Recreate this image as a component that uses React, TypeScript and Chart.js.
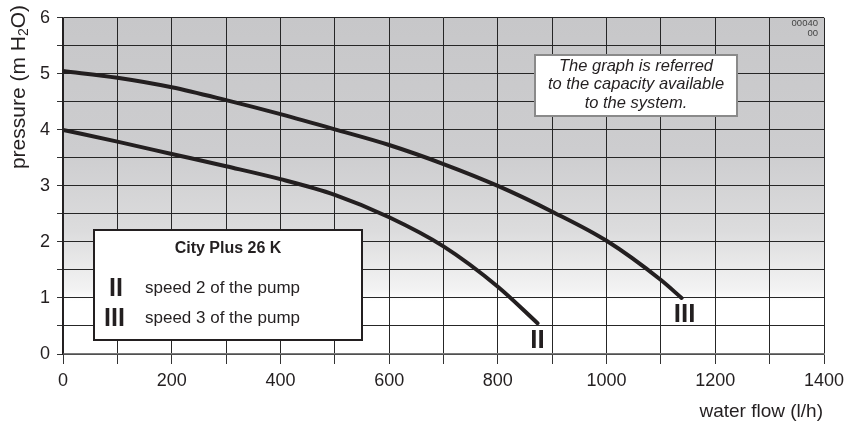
import React, { useEffect, useRef } from 'react';
import { Chart, registerables } from 'chart.js';

Chart.register(...registerables);

// ---- data ----
const flowSpeed2 = [0, 100, 200, 300, 400, 500, 600, 700, 800, 873];
const pressureSpeed2 = [4.0, 3.79, 3.57, 3.35, 3.12, 2.84, 2.44, 1.92, 1.2, 0.55];
const flowSpeed3 = [0, 100, 200, 300, 400, 500, 600, 700, 800, 900, 1000, 1100, 1138];
const pressureSpeed3 = [5.05, 4.93, 4.76, 4.53, 4.28, 4.01, 3.73, 3.39, 3.0, 2.54, 2.02, 1.32, 1.0];

const curveLabels = ['II', 'III'];
const seriesNames = ['speed 2 of the pump', 'speed 3 of the pump'];
const modelName = 'City Plus 26 K';
const noteLines = ['The graph is referred', 'to the capacity available', 'to the system.'];
const codeLines = ['00040', '00'];
const xTitle = 'water flow (l/h)';
const yTitleParts = ['pressure (m H', '2', 'O)'];

const xMin = 0;
const xMax = 1400;
const xStep = 100;
const xLabelStep = 200;
const yMin = 0;
const yMax = 6;
const yStep = 0.5;
const yLabelStep = 1;

// ---- styles ----
const INK = '#231f20';
const SANS = "'Liberation Sans', Arial, sans-serif";
const gradientStops: [number, string][] = [
  [6, '#c7c7c9'],
  [3.6, '#cdcdcf'],
  [2.2, '#dcdcdd'],
  [1.15, '#f3f3f3'],
  [0.95, '#ffffff'],
  [0, '#ffffff'],
];

const overlayPlugin = {
  id: 'overlay',
  beforeDraw(chart: any) {
    const { ctx, chartArea: a, scales } = chart;
    const ys = scales.y;
    const g = ctx.createLinearGradient(0, a.top, 0, a.bottom);
    gradientStops.forEach(([v, c]) => {
      const t = (ys.getPixelForValue(v) - a.top) / (a.bottom - a.top);
      g.addColorStop(Math.min(1, Math.max(0, t)), c);
    });
    ctx.save();
    ctx.fillStyle = g;
    ctx.fillRect(a.left, a.top, a.right - a.left, a.bottom - a.top);
    ctx.restore();
  },
  afterDraw(chart: any) {
    const { ctx, scales } = chart;
    const xs = scales.x;
    const ys = scales.y;
    ctx.save();
    ctx.fillStyle = INK;

    // curve end labels
    ctx.font = `bold 26px ${SANS}`;
    ctx.textAlign = 'center';
    ctx.textBaseline = 'middle';
    const ends = [
      [flowSpeed2[flowSpeed2.length - 1], pressureSpeed2[pressureSpeed2.length - 1], 0, 18],
      [flowSpeed3[flowSpeed3.length - 1], pressureSpeed3[pressureSpeed3.length - 1], 3, 17],
    ];
    ends.forEach(([fx, py, dx, dy], i) => {
      ctx.fillText(curveLabels[i], xs.getPixelForValue(fx) + dx, ys.getPixelForValue(py) + dy);
    });

    // legend box
    ctx.fillStyle = '#ffffff';
    ctx.fillRect(94, 230, 268, 110);
    ctx.strokeStyle = INK;
    ctx.lineWidth = 2;
    ctx.strokeRect(94, 230, 268, 110);
    ctx.fillStyle = INK;
    ctx.font = `bold 16px ${SANS}`;
    ctx.textAlign = 'center';
    ctx.fillText(modelName, 228, 249);
    ctx.font = `bold 25px ${SANS}`;
    ctx.fillText(curveLabels[0], 116, 289);
    ctx.fillText(curveLabels[1], 114.5, 319);
    ctx.font = `17px ${SANS}`;
    ctx.textAlign = 'left';
    ctx.fillText(seriesNames[0], 145, 288);
    ctx.fillText(seriesNames[1], 145, 318);

    // note box
    ctx.fillStyle = '#ffffff';
    ctx.fillRect(535, 55, 202, 61);
    ctx.strokeStyle = '#8a8a8a';
    ctx.lineWidth = 2;
    ctx.strokeRect(535, 55, 202, 61);
    ctx.fillStyle = INK;
    ctx.font = `italic 16.5px ${SANS}`;
    ctx.textAlign = 'center';
    noteLines.forEach((l, i) => ctx.fillText(l, 636, 66 + i * 18.5));

    // code
    ctx.font = `9.5px ${SANS}`;
    ctx.textAlign = 'right';
    ctx.fillStyle = '#444';
    ctx.fillText(codeLines[0], 818, 23);
    ctx.fillText(codeLines[1], 818, 33);

    // x title
    ctx.fillStyle = INK;
    ctx.font = `19px ${SANS}`;
    ctx.textAlign = 'right';
    ctx.fillText(xTitle, 823, 412);

    // y title (rotated with subscript)
    ctx.translate(19, 87);
    ctx.rotate(-Math.PI / 2);
    const big = `21px ${SANS}`;
    const small = `14px ${SANS}`;
    ctx.font = big;
    const w1 = ctx.measureText(yTitleParts[0]).width;
    const w3 = ctx.measureText(yTitleParts[2]).width;
    ctx.font = small;
    const w2 = ctx.measureText(yTitleParts[1]).width;
    let x0 = -(w1 + w2 + w3) / 2;
    ctx.textAlign = 'left';
    ctx.textBaseline = 'middle';
    ctx.font = big;
    ctx.fillText(yTitleParts[0], x0, 0);
    x0 += w1;
    ctx.font = small;
    ctx.fillText(yTitleParts[1], x0, 5);
    x0 += w2;
    ctx.font = big;
    ctx.fillText(yTitleParts[2], x0, 0);
    ctx.restore();
  },
};

const toPoints = (xs: number[], ys: number[]) => xs.map((x, i) => ({ x, y: ys[i] }));

export default function App() {
  const ref = useRef<HTMLCanvasElement | null>(null);
  useEffect(() => {
    if (!ref.current) return;
    const lineStyle = {
      borderColor: INK,
      borderWidth: 4,
      pointRadius: 0,
      fill: false,
      cubicInterpolationMode: 'monotone' as const,
      borderCapStyle: 'round' as const,
      borderJoinStyle: 'round' as const,
    };
    const chart = new Chart(ref.current, {
      type: 'line',
      data: {
        datasets: [
          { label: seriesNames[0], data: toPoints(flowSpeed2, pressureSpeed2), ...lineStyle },
          { label: seriesNames[1], data: toPoints(flowSpeed3, pressureSpeed3), ...lineStyle },
        ],
      },
      options: {
        animation: false,
        responsive: false,
        devicePixelRatio: 1,
        layout: { padding: { top: 14, right: 28, left: 0, bottom: 0 } },
        plugins: { legend: { display: false }, tooltip: { enabled: false } },
        scales: {
          x: {
            type: 'linear',
            min: xMin,
            max: xMax,
            afterFit: (s: any) => { s.height = 71; },
            ticks: {
              stepSize: xStep,
              color: INK,
              font: { family: SANS, size: 18 },
              padding: 6,
              maxRotation: 0,
              autoSkip: false,
              callback: (v: any) => (Number(v) % xLabelStep === 0 ? String(v) : ''),
            },
            grid: { color: '#262626', lineWidth: 1, tickLength: 10, tickColor: '#333' },
            border: { color: '#7a7a7a', width: 1.5 },
          },
          y: {
            type: 'linear',
            min: yMin,
            max: yMax,
            afterFit: (s: any) => { s.width = 63; },
            ticks: {
              stepSize: yStep,
              color: INK,
              font: { family: SANS, size: 18 },
              padding: 7,
              autoSkip: false,
              callback: (v: any) => (Number(v) % yLabelStep === 0 ? String(v) : ''),
            },
            grid: { color: '#262626', lineWidth: 1, tickLength: 6, tickColor: '#333' },
            border: { color: INK, width: 1.5 },
          },
        },
      },
      plugins: [overlayPlugin],
    });
    return () => chart.destroy();
  }, []);
  return (
    <div style={{ position: 'absolute', left: 0, top: 0, width: 852, height: 425, background: '#fff' }}>
      <canvas ref={ref} width={852} height={425} style={{ display: 'block' }} />
    </div>
  );
}
